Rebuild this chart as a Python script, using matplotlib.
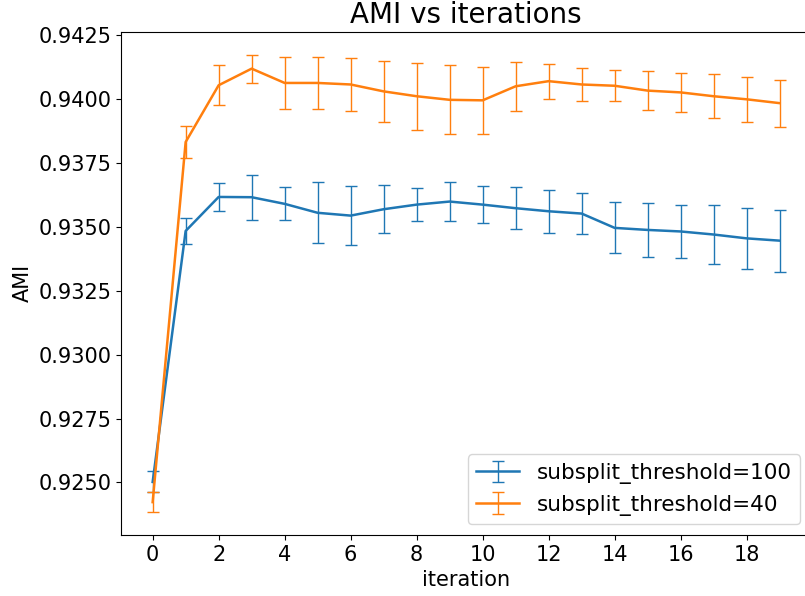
import matplotlib
matplotlib.use("Agg")
import matplotlib.pyplot as plt

iterations = list(range(20))

ami_thr100 = [0.92502, 0.93484, 0.93617, 0.93616, 0.93590, 0.93555, 0.93544,
              0.93569, 0.93587, 0.93599, 0.93587, 0.93573, 0.93561, 0.93552,
              0.93496, 0.93488, 0.93482, 0.93470, 0.93455, 0.93446]
err_thr100 = [0.00041, 0.00052, 0.00055, 0.00088, 0.00064, 0.00119, 0.00114,
              0.00094, 0.00064, 0.00077, 0.00072, 0.00081, 0.00084, 0.00081,
              0.00100, 0.00104, 0.00104, 0.00117, 0.00120, 0.00121]

ami_thr40 = [0.92423, 0.93832, 0.94054, 0.94119, 0.94063, 0.94063, 0.94057,
             0.94030, 0.94011, 0.93997, 0.93995, 0.94050, 0.94070, 0.94057,
             0.94052, 0.94033, 0.94026, 0.94011, 0.93999, 0.93984]
err_thr40 = [0.00039, 0.00064, 0.00079, 0.00055, 0.00101, 0.00103, 0.00103,
             0.00120, 0.00132, 0.00135, 0.00132, 0.00095, 0.00069, 0.00065,
             0.00060, 0.00075, 0.00077, 0.00087, 0.00087, 0.00092]

labels = ["subsplit_threshold=100", "subsplit_threshold=40"]

fig = plt.figure(figsize=(8.05, 5.96), dpi=100)
ax = fig.add_axes([121.3 / 805, 61 / 596, (811 - 121.3) / 805, (535 - 31.7) / 596])

ax.errorbar(iterations, ami_thr100, yerr=err_thr100, color="#1f77b4",
            linewidth=1.8, elinewidth=1, capsize=4.3, label=labels[0])
ax.errorbar(iterations, ami_thr40, yerr=err_thr40, color="#ff7f0e",
            linewidth=1.8, elinewidth=1, capsize=4.3, label=labels[1])

ax.set_xticks(range(0, 20, 2))
ax.tick_params(labelsize=15)
ax.set_title("AMI vs iterations", fontsize=20)
ax.set_xlabel("iteration", fontsize=15)
ax.set_ylabel("AMI", fontsize=15)
ax.legend(loc="lower right", fontsize=15.5)

fig.savefig("out.png", dpi=100)
